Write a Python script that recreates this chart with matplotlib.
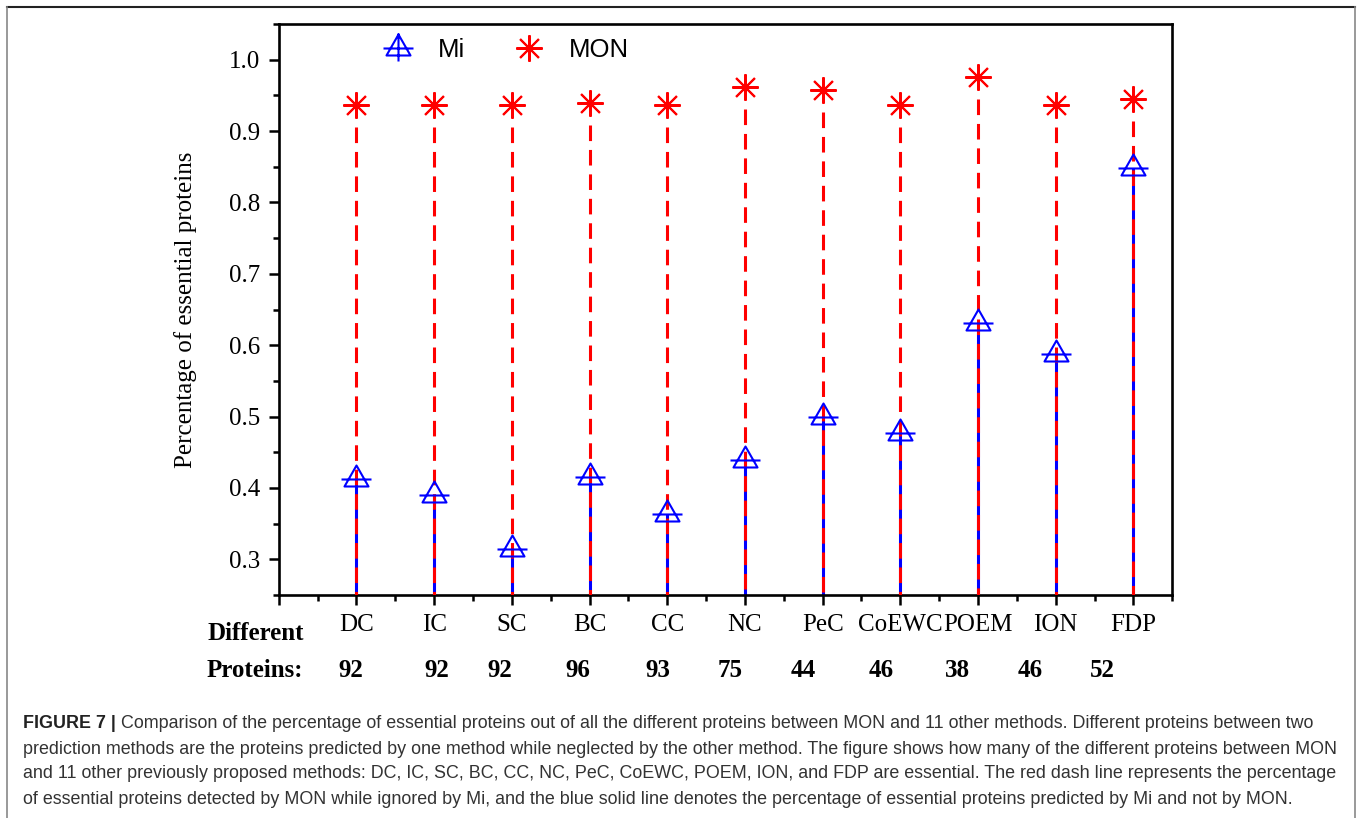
import numpy as np
import matplotlib
matplotlib.use("Agg")
import matplotlib.pyplot as plt
from matplotlib.path import Path
from matplotlib.lines import Line2D
from matplotlib.ticker import MultipleLocator, FormatStrFormatter
from matplotlib.font_manager import FontProperties
import matplotlib.transforms as mtransforms

# ---------------- data ----------------
methods = ["DC", "IC", "SC", "BC", "CC", "NC", "PeC", "CoEWC", "POEM", "ION", "FDP"]
mi_values = [0.412, 0.390, 0.314, 0.415, 0.364, 0.439, 0.499, 0.477, 0.631, 0.587, 0.848]
mon_values = [0.937, 0.937, 0.937, 0.939, 0.937, 0.962, 0.957, 0.937, 0.976, 0.937, 0.945]
diff_counts = [92, 92, 92, 96, 93, 75, 44, 46, 38, 46, 52]
series_names = ["Mi", "MON"]
y_ticks = [0.3, 0.4, 0.5, 0.6, 0.7, 0.8, 0.9, 1.0]

caption_lines = [
    "Comparison of the percentage of essential proteins out of all the different proteins between MON and 11 other methods. Different proteins between two",
    "prediction methods are the proteins predicted by one method while neglected by the other method. The figure shows how many of the different proteins between MON",
    "and 11 other previously proposed methods: DC, IC, SC, BC, CC, NC, PeC, CoEWC, POEM, ION, and FDP are essential. The red dash line represents the percentage",
    "of essential proteins detected by MON while ignored by Mi, and the blue solid line denotes the percentage of essential proteins predicted by Mi and not by MON.",
]

# ---------------- layout ----------------
W, H = 1357, 818
count_label_x = [0.93, 2.04, 2.85, 3.85, 4.88, 5.81, 6.75, 7.75, 8.74, 9.67, 10.60]
YMIN, YMAX = 0.25, 1.05
XMAX = 11.5
BLUE = "#0000ff"
RED = "#ff0000"
STEP_PX = 77.7

plt.rcParams["font.family"] = ["Liberation Serif", "DejaVu Serif"]

fig = plt.figure(figsize=(W / 100, H / 100), dpi=100)
ax = fig.add_axes([278.7 / W, 1 - 595 / H, XMAX * STEP_PX / W, 571 / H])
ax.set_xlim(0, XMAX)
ax.set_ylim(YMIN, YMAX)

x = np.arange(1, len(methods) + 1)

# custom Origin-like triangle marker (centroid at data point, horizontal bar)
tri_verts = [(0, 14), (-12, -7), (12, -7), (0, 14), (-15, 0), (15, 0)]
tri_codes = [Path.MOVETO, Path.LINETO, Path.LINETO, Path.CLOSEPOLY, Path.MOVETO, Path.LINETO]
mi_marker = Path(tri_verts, tri_codes)
leg_verts = tri_verts + [(0, 15), (0, -13)]
leg_codes = tri_codes + [Path.MOVETO, Path.LINETO]
mi_leg_marker = Path(leg_verts, leg_codes)

# blue solid stems (Mi)
ax.vlines(x, YMIN, mi_values, colors=BLUE, lw=2.2, zorder=2)

# red dashed stems (MON): stop a little below the star (gap measured in pixels)
disp = ax.transData.transform(np.column_stack([x, mon_values]))
disp[:, 1] -= 22
stops = ax.transData.inverted().transform(disp)[:, 1]
ax.vlines(x, stops, YMIN, colors=RED, lw=2.2, linestyles=[(0, (5.1, 2.9))], zorder=3)

ax.plot(x, mi_values, ls="none", marker=mi_marker, ms=21.6, mfc="none",
        mec=BLUE, mew=1.5, zorder=4, clip_on=False)
ax.plot(x, mon_values, ls="none", marker=(8, 2, 0), ms=19, mec=RED,
        mew=1.5, zorder=4, clip_on=False)

# legend
handles = [
    Line2D([], [], ls="none", marker=mi_leg_marker, ms=21.6, mfc="none", mec=BLUE, mew=1.5),
    Line2D([], [], ls="none", marker=(8, 2, 0), ms=19, mec=RED, mew=1.5),
]
ax.legend(handles, series_names, loc="center left", bbox_to_anchor=(0.114 * 12 / XMAX, 0.954),
          ncol=2, frameon=False, borderpad=0, borderaxespad=0, handlelength=1.0,
          handletextpad=1.05, columnspacing=2.0, numpoints=1,
          prop=FontProperties(family="Liberation Sans", size=18.5))

# axes styling
for sp in ax.spines.values():
    sp.set_linewidth(1.9)
ax.set_xticks(range(0, 12))
ax.set_xticklabels([""] + methods)
ax.xaxis.set_minor_locator(MultipleLocator(0.5))
ax.set_yticks(y_ticks)
ax.yaxis.set_major_formatter(FormatStrFormatter("%.1f"))
ax.yaxis.set_minor_locator(MultipleLocator(0.05))
ax.tick_params(which="both", direction="out", width=1.8, top=False, right=False)
ax.tick_params(which="major", length=7.5, labelsize=18, pad=6)
ax.tick_params(which="minor", length=4.5)

ax.set_ylabel("Percentage of essential proteins", fontsize=18)
ax.yaxis.set_label_coords(-0.088 * 12 / XMAX, 0.5)

# extra row labels under the axis
ax_px_w = XMAX * STEP_PX
ax.text(-71.7 / ax_px_w, -0.068, "Different", transform=ax.transAxes, ha="left", va="center",
        fontsize=18, fontweight="bold")
ax.text(-71.7 / ax_px_w, -0.132, "Proteins:", transform=ax.transAxes, ha="left", va="center",
        fontsize=18, fontweight="bold")
blend = mtransforms.blended_transform_factory(ax.transData, ax.transAxes)
for xp, n in zip(count_label_x, diff_counts):
    ax.text(xp, -0.132, str(n), transform=blend, ha="center", va="center",
            fontsize=18, fontweight="bold")

# frame around the figure panel
fig.add_artist(Line2D([7 / W, 1355 / W], [1 - 7 / H, 1 - 7 / H], transform=fig.transFigure,
                      color="#222222", lw=1.5))
fig.add_artist(Line2D([7 / W, 7 / W], [1 - 7 / H, 0], transform=fig.transFigure,
                      color="#888888", lw=1.2))
fig.add_artist(Line2D([1355 / W, 1355 / W], [1 - 7 / H, 0], transform=fig.transFigure,
                      color="#888888", lw=1.2))

# caption
renderer = fig.canvas.get_renderer()
cap_font = ["Liberation Sans", "DejaVu Sans"]
probe = fig.text(0, 0, caption_lines[1], family=cap_font, size=12)
wpx = probe.get_window_extent(renderer).width
probe.remove()
cs = 12 * (1340 - 23) / wpx
cap_y = [724, 749, 774, 799]
head = fig.text(23 / W, 1 - cap_y[0] / H, "FIGURE 7 | ", family=cap_font, size=cs,
                fontweight="bold", color="#222222", va="center")
hw = head.get_window_extent(renderer).width
for i, (line, yy) in enumerate(zip(caption_lines, cap_y)):
    x0 = 23 + (hw if i == 0 else 0)
    fig.text(x0 / W, 1 - yy / H, line, family=cap_font, size=cs, color="#333333",
             va="center")

fig.savefig("out.png", dpi=100)
